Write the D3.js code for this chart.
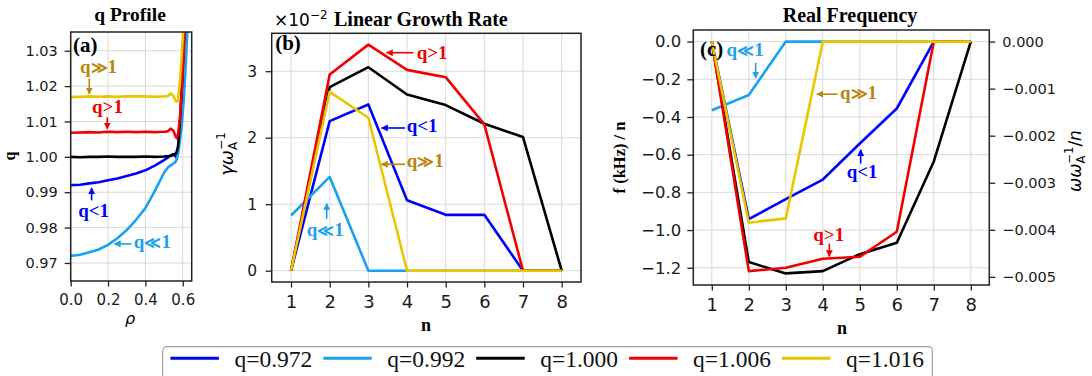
<!DOCTYPE html>
<html>
<head>
<meta charset="utf-8">
<script src="https://cdn.jsdelivr.net/npm/d3@7"></script>
<style>
  body { margin: 0; background: #fff; }
  svg { display: block; }
</style>
</head>
<body>
<svg id="fig" width="1092" height="376"></svg>
<script>
// ---------------- data ----------------
const seriesLabels = ["q=0.972", "q=0.992", "q=1.000", "q=1.006", "q=1.016"];
const seriesColors = ["#0000ff", "#1aa1f0", "#000000", "#f00000", "#e8c700"];

// (a) safety-factor profiles vs rho
const rhoGrid = [0, 0.05, 0.1, 0.15, 0.2, 0.25, 0.3, 0.35, 0.4, 0.45, 0.5, 0.52, 0.535, 0.55, 0.56, 0.567, 0.575, 0.585, 0.595, 0.605, 0.615, 0.625, 0.635];
const qBlue      = [0.9920, 0.9921, 0.9925, 0.9928, 0.9934, 0.9939, 0.9946, 0.9953, 0.9962, 0.9975, 0.9991, 0.9998, 1.0004, 1.0008, 1.0002, 0.9998, 1.0015, 1.0080, 1.0170, 1.0280, 1.0400, 1.0520, 1.0640];
const qLightBlue = [0.9720, 0.9723, 0.9730, 0.9738, 0.9751, 0.9770, 0.9793, 0.9822, 0.9855, 0.9903, 0.9955, 0.9970, 0.9976, 0.9981, 0.9985, 0.9991, 1.0010, 1.0045, 1.0090, 1.0160, 1.0250, 1.0360, 1.0470];
const qBlack     = [1.0000, 0.9999, 1.0000, 1.0000, 1.0001, 1.0000, 1.0000, 1.0000, 1.0001, 1.0000, 1.0001, 1.0002, 1.0003, 1.0005, 1.0008, 1.0013, 1.0030, 1.0100, 1.0200, 1.0320, 1.0450, 1.0580, 1.0700];
const qRed       = [1.0068, 1.0069, 1.0070, 1.0069, 1.0071, 1.0070, 1.0071, 1.0070, 1.0071, 1.0070, 1.0071, 1.0072, 1.0080, 1.0074, 1.0060, 1.0053, 1.0065, 1.0110, 1.0190, 1.0290, 1.0410, 1.0530, 1.0650];
const qYellow    = [1.0169, 1.0170, 1.0171, 1.0170, 1.0171, 1.0170, 1.0171, 1.0171, 1.0171, 1.0170, 1.0171, 1.0172, 1.0179, 1.0172, 1.0160, 1.0156, 1.0160, 1.0215, 1.0290, 1.0380, 1.0480, 1.0580, 1.0680];
const qProfiles = [qBlue, qLightBlue, qBlack, qRed, qYellow];

// (b) linear growth rate (x 1e-2) and (c) real frequency f/n (kHz) vs toroidal mode number
const modeN = [1, 2, 3, 4, 5, 6, 7, 8];
const growthBlue      = [0, 2.25, 2.50, 1.06, 0.84, 0.84, 0, 0];
const growthLightBlue = [0.83, 1.41, 0, 0, 0, 0, 0, 0];
const growthBlack     = [0, 2.76, 3.06, 2.65, 2.49, 2.21, 2.01, 0];
const growthRed       = [0, 2.95, 3.40, 3.02, 2.91, 2.20, 0, 0];
const growthYellow    = [0, 2.69, 2.30, 0, 0, 0, 0, 0];
const growthRates = [growthBlue, growthLightBlue, growthBlack, growthRed, growthYellow];

const freqBlue      = [0, -0.942, -0.836, -0.732, -0.541, -0.355, 0, 0];
const freqLightBlue = [-0.364, -0.283, 0, 0, 0, 0, 0, 0];
const freqBlack     = [0, -1.170, -1.230, -1.218, -1.128, -1.067, -0.636, 0];
const freqRed       = [0, -1.218, -1.200, -1.152, -1.142, -1.009, 0, 0];
const freqYellow    = [0, -0.961, -0.938, 0, 0, 0, 0, 0];
const realFreqs = [freqBlue, freqLightBlue, freqBlack, freqRed, freqYellow];

// conversion from f/n (kHz) to omega/omega_A/n on the twin axis
const kHzToOmegaA = 0.004006;

// tick values
const ticksRho = [0, 0.2, 0.4, 0.6];
const ticksQ = [0.97, 0.98, 0.99, 1.00, 1.01, 1.02, 1.03];
const ticksN = [1, 2, 3, 4, 5, 6, 7, 8];
const ticksGrowth = [0, 1, 2, 3];
const ticksFreq = [0, -0.2, -0.4, -0.6, -0.8, -1.0, -1.2];
const ticksOmega = [0, -0.001, -0.002, -0.003, -0.004, -0.005];

// ---------------- helpers ----------------
const svg = d3.select("#fig");
const SERIF = "'Liberation Serif', 'Times New Roman', serif";
const SANS = "'DejaVu Sans', sans-serif";
const defs = svg.append("defs");

// arrow-head markers, one per colour
function arrowId(color) { return "ah" + color.replace("#", ""); }
function ensureMarker(color) {
  const id = arrowId(color);
  if (!defs.select("#" + id).empty()) return id;
  defs.append("marker").attr("id", id)
    .attr("viewBox", "0 0 10 10").attr("refX", 9).attr("refY", 5)
    .attr("markerUnits", "userSpaceOnUse").attr("markerWidth", 7).attr("markerHeight", 7)
    .attr("orient", "auto")
    .append("path").attr("d", "M0,0 L10,5 L0,10 Z").attr("fill", color);
  return id;
}

function makePanel(name, left, top, right, bottom, xd, yd) {
  const x = d3.scaleLinear().domain(xd).range([left, right]);
  const y = d3.scaleLinear().domain(yd).range([bottom, top]);
  defs.append("clipPath").attr("id", "clip-" + name)
    .append("rect").attr("x", left).attr("y", top)
    .attr("width", right - left).attr("height", bottom - top);
  const g = svg.append("g");
  return { name, x, y, left, top, right, bottom, g };
}

function drawGrid(p, xt, yt) {
  const gg = p.g.append("g").attr("stroke", "#d9d9d9").attr("stroke-width", 1);
  gg.selectAll("line.vx").data(xt).join("line")
    .attr("x1", d => p.x(d)).attr("x2", d => p.x(d))
    .attr("y1", p.top).attr("y2", p.bottom);
  gg.selectAll("line.hy").data(yt).join("line")
    .attr("x1", p.left).attr("x2", p.right)
    .attr("y1", d => p.y(d)).attr("y2", d => p.y(d));
}

function styleAxis(sel, fontSize) {
  sel.select(".domain").remove();
  sel.selectAll(".tick line").attr("stroke", "#222").attr("stroke-width", 1.3);
  sel.selectAll(".tick text").attr("fill", "#1a1a1a")
    .style("font-family", SANS).style("font-size", fontSize + "px");
}

function drawAxes(p, opt) {
  const xa = d3.axisBottom(p.x).tickValues(opt.xt).tickFormat(d3.format(opt.xf))
    .tickSize(5.5).tickPadding(opt.xpad);
  p.g.append("g").attr("transform", `translate(0,${p.bottom})`).call(xa)
    .call(s => styleAxis(s, opt.xfs));
  const ya = d3.axisLeft(p.y).tickValues(opt.yt).tickFormat(d3.format(opt.yf))
    .tickSize(6).tickPadding(opt.ypad);
  p.g.append("g").attr("transform", `translate(${p.left},0)`).call(ya)
    .call(s => styleAxis(s, opt.yfs));
}

function drawFrame(p) {
  p.g.append("rect").attr("x", p.left).attr("y", p.top)
    .attr("width", p.right - p.left).attr("height", p.bottom - p.top)
    .attr("fill", "none").attr("stroke", "#222").attr("stroke-width", 1.5);
}

function drawSeries(p, xs, ys, color) {
  const line = d3.line().x((d, i) => p.x(xs[i])).y(d => p.y(d));
  p.g.append("path").datum(ys)
    .attr("clip-path", `url(#clip-${p.name})`)
    .attr("d", line).attr("fill", "none")
    .attr("stroke", color).attr("stroke-width", 2.6)
    .attr("stroke-linejoin", "round");
}

// annotation: bold text plus a short arrow, all placed in data units
function annotate(p, a) {
  const t = p.g.append("text").attr("x", p.x(a.tx)).attr("y", p.y(a.ty))
    .attr("fill", a.color).style("font-family", SERIF)
    .style("font-weight", "bold").style("font-size", "19px");
  // the much-less / much-greater sign comes from a fallback font; keep it compact
  a.text.split(/([≪≫])/).filter(s => s.length).forEach(s => {
    const ts = t.append("tspan").text(s);
    if (s === "≪" || s === "≫") ts.style("font-size", "16px");
  });
  const id = ensureMarker(a.color);
  p.g.append("line")
    .attr("x1", p.x(a.ax1)).attr("y1", p.y(a.ay1))
    .attr("x2", p.x(a.ax2)).attr("y2", p.y(a.ay2))
    .attr("stroke", a.color).attr("stroke-width", 1.6)
    .attr("marker-end", `url(#${id})`);
}

function panelTag(p, text, tx, ty) {
  p.g.append("text").attr("x", p.x(tx)).attr("y", p.y(ty))
    .style("font-family", SERIF).style("font-weight", "bold")
    .style("font-size", "21px").attr("fill", "#000").text(text);
}

const GOLD = "#b8860b";

// ---------------- (a) q profile ----------------
const pa = makePanel("a", 70.7, 32, 191.7, 281, [0, 0.648], [0.9649, 1.0353]);
drawGrid(pa, ticksRho, ticksQ);
qProfiles.forEach((ys, i) => drawSeries(pa, rhoGrid, ys, seriesColors[i]));
drawAxes(pa, { xt: ticksRho, xf: ".1f", xpad: 8, xfs: 15, yt: ticksQ, yf: ".2f", ypad: 7, yfs: 14.5 });
drawFrame(pa);
panelTag(pa, "(a)", 0.012, 1.0296);
annotate(pa, { text: "q≫1", color: GOLD, tx: 0.05, ty: 1.0237, ax1: 0.0995, ay1: 1.0222, ax2: 0.0995, ay2: 1.0178 });
annotate(pa, { text: "q>1", color: seriesColors[3], tx: 0.114, ty: 1.0123, ax1: 0.196, ay1: 1.0112, ax2: 0.196, ay2: 1.0079 });
annotate(pa, { text: "q<1", color: seriesColors[0], tx: 0.040, ty: 0.9831, ax1: 0.112, ay1: 0.9877, ax2: 0.112, ay2: 0.9912 });
annotate(pa, { text: "q≪1", color: seriesColors[1], tx: 0.338, ty: 0.9741, ax1: 0.326, ay1: 0.9754, ax2: 0.234, ay2: 0.9754 });

svg.append("text").attr("x", 130).attr("y", 21).attr("text-anchor", "middle")
  .style("font-family", SERIF).style("font-weight", "bold").style("font-size", "19.5px")
  .text("q Profile");
svg.append("text").attr("transform", "translate(15,156) rotate(-90)").attr("text-anchor", "middle")
  .style("font-family", SERIF).style("font-weight", "bold").style("font-size", "16px").text("q");
svg.append("text").attr("x", 130).attr("y", 324).attr("text-anchor", "middle")
  .style("font-family", SANS).style("font-style", "italic").style("font-size", "16px").text("ρ");

// ---------------- (b) linear growth rate ----------------
const pb = makePanel("b", 271.7, 33.3, 581, 282, [0.5, 8.5], [-0.17, 3.57]);
drawGrid(pb, ticksN, ticksGrowth);
growthRates.forEach((ys, i) => drawSeries(pb, modeN, ys, seriesColors[i]));
drawAxes(pb, { xt: ticksN, xf: "d", xpad: 7.5, xfs: 18, yt: ticksGrowth, yf: "d", ypad: 8.5, yfs: 15.5 });
drawFrame(pb);
panelTag(pb, "(b)", 0.59, 3.318);
annotate(pb, { text: "q>1", color: seriesColors[3], tx: 4.25, ty: 3.19, ax1: 4.16, ay1: 3.278, ax2: 3.47, ay2: 3.278 });
annotate(pb, { text: "q<1", color: seriesColors[0], tx: 3.99, ty: 2.086, ax1: 3.95, ay1: 2.146, ax2: 3.34, ay2: 2.146 });
annotate(pb, { text: "q≫1", color: GOLD, tx: 3.99, ty: 1.558, ax1: 3.95, ay1: 1.60, ax2: 3.34, ay2: 1.60 });
annotate(pb, { text: "q≪1", color: seriesColors[1], tx: 1.405, ty: 0.528, ax1: 1.923, ay1: 0.78, ax2: 1.923, ay2: 1.01 });

const tb = svg.append("text").attr("x", 274).attr("y", 26)
  .style("font-family", SANS).style("font-size", "17px");
tb.append("tspan").text("×10");
tb.append("tspan").attr("dy", -7).style("font-size", "12px").text("−2");
svg.append("text").attr("x", 334).attr("y", 26)
  .style("font-family", SERIF).style("font-weight", "bold").style("font-size", "20px")
  .text("Linear Growth Rate");
const yb = svg.append("text").attr("transform", "translate(233,154) rotate(-90)")
  .attr("text-anchor", "middle").style("font-family", SANS).style("font-size", "18px");
yb.append("tspan").style("font-style", "italic").text("γω");
yb.append("tspan").attr("dy", 4).style("font-size", "12px").text("A");
yb.append("tspan").attr("dx", -8).attr("dy", -12).style("font-size", "12px").text("−1");
svg.append("text").attr("x", 426).attr("y", 331).attr("text-anchor", "middle")
  .style("font-family", SERIF).style("font-weight", "bold").style("font-size", "18px").text("n");

// ---------------- (c) real frequency ----------------
const pc = makePanel("c", 693.3, 30, 989.3, 285, [0.5, 8.5], [-1.2915, 0.0615]);
drawGrid(pc, ticksN, ticksFreq);
realFreqs.forEach((ys, i) => drawSeries(pc, modeN, ys, seriesColors[i]));
drawAxes(pc, { xt: ticksN, xf: "d", xpad: 7.5, xfs: 18, yt: ticksFreq, yf: ".1f", ypad: 6, yfs: 16.5 });
// twin axis in omega / omega_A / n
const yR = d3.scaleLinear()
  .domain(pc.y.domain().map(v => v * kHzToOmegaA))
  .range(pc.y.range());
pc.g.append("g").attr("transform", `translate(${pc.right},0)`)
  .call(d3.axisRight(yR).tickValues(ticksOmega).tickFormat(d3.format(".3f")).tickSize(6).tickPadding(7))
  .call(s => styleAxis(s, 14.5));
drawFrame(pc);
panelTag(pc, "(c)", 0.68, -0.078);
annotate(pc, { text: "q≪1", color: seriesColors[1], tx: 1.40, ty: -0.078, ax1: 2.186, ay1: -0.113, ax2: 2.186, ay2: -0.193 });
annotate(pc, { text: "q≫1", color: GOLD, tx: 4.465, ty: -0.306, ax1: 4.40, ay1: -0.279, ax2: 3.84, ay2: -0.279 });
annotate(pc, { text: "q<1", color: seriesColors[0], tx: 4.646, ty: -0.726, ax1: 5.024, ay1: -0.647, ax2: 5.024, ay2: -0.574 });
annotate(pc, { text: "q>1", color: seriesColors[3], tx: 3.743, ty: -1.057, ax1: 4.176, ay1: -1.071, ax2: 4.176, ay2: -1.140 });

svg.append("text").attr("x", 850).attr("y", 22).attr("text-anchor", "middle")
  .style("font-family", SERIF).style("font-weight", "bold").style("font-size", "20px")
  .text("Real Frequency");
svg.append("text").attr("transform", "translate(625,157.5) rotate(-90)").attr("text-anchor", "middle")
  .style("font-family", SERIF).style("font-weight", "bold").style("font-size", "16.5px")
  .text("f (kHz) / n");
svg.append("text").attr("x", 842).attr("y", 334).attr("text-anchor", "middle")
  .style("font-family", SERIF).style("font-weight", "bold").style("font-size", "18px").text("n");
const yc = svg.append("text").attr("transform", "translate(1081,161) rotate(-90)")
  .attr("text-anchor", "middle").style("font-family", SANS).style("font-size", "17px");
yc.append("tspan").style("font-style", "italic").text("ωω");
yc.append("tspan").attr("dy", 4).style("font-size", "11.5px").text("A");
yc.append("tspan").attr("dx", -8).attr("dy", -12).style("font-size", "11.5px").text("−1");
yc.append("tspan").attr("dy", 8).text("/");
yc.append("tspan").style("font-style", "italic").text("n");

// ---------------- legend ----------------
const legend = svg.append("g");
legend.append("rect").attr("x", 162.7).attr("y", 346.7).attr("width", 769.7).attr("height", 40)
  .attr("rx", 4).attr("fill", "#fff").attr("stroke", "#a0a0a0").attr("stroke-width", 1.2);
const entries = legend.selectAll("g.entry").data(seriesLabels).join("g")
  .attr("transform", (d, i) => `translate(${170.4 + i * 152.9},0)`);
entries.append("line").attr("x1", 0).attr("x2", 48.5).attr("y1", 358.3).attr("y2", 358.3)
  .attr("stroke", (d, i) => seriesColors[i]).attr("stroke-width", 3);
entries.append("text").attr("x", 64).attr("y", 366.7)
  .style("font-family", SERIF).style("font-size", "23.5px").attr("fill", "#111")
  .text(d => d);
</script>
</body>
</html>
